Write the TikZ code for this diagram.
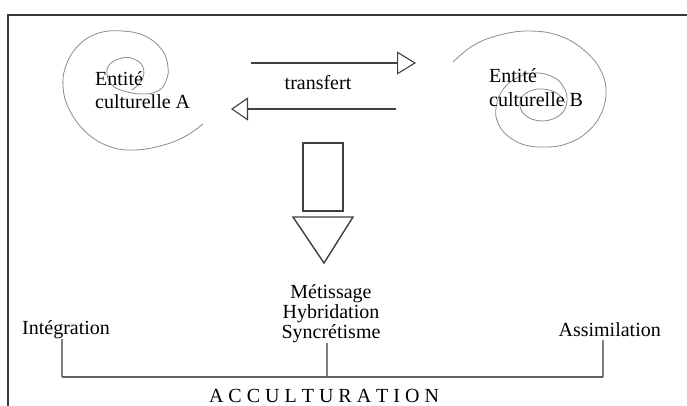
\documentclass[tikz,border=0pt]{standalone}
\usepackage{fontspec}
\setmainfont{Liberation Serif}
\usetikzlibrary{arrows.meta}
\begin{document}
\begin{tikzpicture}[x=1pt,y=-1pt,
  frameline/.style={draw=black!78, line width=1.3pt},
  spiralline/.style={draw=black!45, line width=0.8pt},
  arrowline/.style={draw=black!75, line width=1.1pt},
  blockline/.style={draw=black!75, line width=1.4pt},
  bracketline/.style={draw=black!62, line width=1.8pt},
  vline/.style={draw=black!50, line width=1.2pt},
  lbl/.style={inner sep=0pt, font=\fontsize{20}{20}\selectfont}]
\useasboundingbox (0,0) rectangle (687,406);
\fill[white] (0,0) rectangle (687,406);
% frame (top and left edges)
\coordinate (fTR) at (687,15);
\coordinate (fC) at (8,15);
\coordinate (fBL) at (8,406);
\draw[frameline] (fTR) -- (fC) -- (fBL);
% spiral A
\draw[spiralline] plot[smooth, tension=0.7] coordinates {(132,90) (142,80) (143,67) (134,59) (122,58) (110,64) (107,74) (112,85) (124,91) (142,94) (158,91) (166,81) (168,67) (162,50) (145,36) (122,31) (99,33) (80,44) (67,63) (63,86) (70,111) (88,134) (111,147) (134,150) (160,146) (184,137) (203,124)};
% spiral B
\draw[spiralline] plot[smooth, tension=0.7] coordinates {(453,62) (474,45) (500,35) (530,31) (560,36) (585,51) (601,71) (606,93) (600,116) (585,134) (566,144) (547,147) (525,145) (508,136) (498,123) (496,108) (502,91) (515,79) (532,73) (551,76) (563,86) (567,101) (560,115) (542,121) (525,115) (520,102) (528,92) (543,89) (558,94) (565,103)};
% entity labels (base anchor = last line)
\node[lbl, anchor=base west, align=left, font=\fontsize{20}{23}\selectfont] (entA) at (95,109) {Entité\\culturelle A};
\node[lbl, anchor=base west, align=left, font=\fontsize{20}{24}\selectfont] (entB) at (489,107) {Entité\\culturelle B};
% transfer arrows
\node[lbl, anchor=base] (transf) at (318,90) {transfert};
\coordinate (t1s) at (251,63);
\coordinate (t1e) at (416,63);
\draw[arrowline, -{Triangle[open, length=19pt, width=23pt]}] (t1s) -- (t1e);
\coordinate (t2s) at (396,109);
\coordinate (t2e) at (231,109);
\draw[arrowline, -{Triangle[open, length=17pt, width=23pt]}] (t2s) -- (t2e);
% block arrow
\draw[blockline] (303,143) rectangle (343,211);
\draw[blockline] (293,217) -- (353,217) -- (324,263) -- cycle;
% bottom labels
\node[lbl, anchor=base west] (integ) at (22,334) {Intégration};
\node[lbl, anchor=base east] (assim) at (661,336) {Assimilation};
\node[lbl, anchor=base, align=center] (metis) at (331,338) {Métissage\\Hybridation\\Syncrétisme};
\node[lbl, anchor=base] (accult) at (324,402) {A C C U L T U R A T I O N};
% bracket
\coordinate (bL) at (62,377);
\coordinate (bM) at (327,377);
\coordinate (bR) at (603,377);
\coordinate (vL) at (62,339);
\coordinate (vM) at (327,343);
\coordinate (vR) at (603,340);
\draw[vline] (vL) -- (bL);
\draw[vline] (vM) -- (bM);
\draw[vline] (vR) -- (bR);
\draw[bracketline] (bL) -- (bR);
\end{tikzpicture}
\end{document}
